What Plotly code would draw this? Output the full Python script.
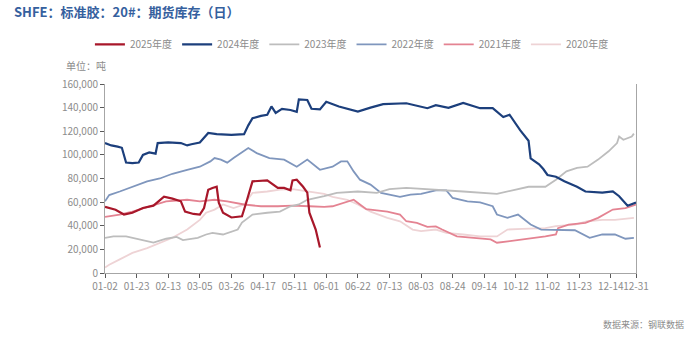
import plotly.graph_objects as go

# x tick positions are trading-day indices; labels are month-day
tick_idx = [0, 15, 30, 45, 60, 75, 90, 105, 120, 135, 150, 165, 180, 195, 210, 225, 240, 252]
tick_labels = ["01-02", "01-23", "02-13", "03-05", "03-26", "04-17", "05-11", "06-01", "06-22",
               "07-13", "08-03", "08-24", "09-14", "10-12", "11-02", "11-23", "12-14", "12-31"]

day_2025 = [0, 3, 5, 9, 13, 18, 23, 28, 32, 36, 38, 42, 45, 47, 49, 51, 53, 54, 56, 60, 65, 67,
            70, 77, 79, 82, 85, 88, 89, 91, 94, 96, 97, 100, 102]
inv_2025 = [56000, 54500, 53500, 49500, 51000, 55000, 57000, 64600, 63000, 60700, 52000, 50000,
            49500, 55000, 70500, 72000, 73000, 59500, 51000, 47000, 48000, 59500,
            77600, 78400, 76000, 72000, 72000, 70000, 78400, 79000, 73000, 68000, 51000, 36800, 21600]

day_2024 = [0, 3, 6, 8, 10, 13, 16, 18, 21, 24, 25, 30, 36, 39, 41, 45, 49, 53, 60, 66, 68, 70,
            74, 77, 79, 81, 84, 88, 91, 92, 96, 98, 102, 105, 111, 120, 126, 132, 143, 153, 157,
            163, 170, 178, 184, 189, 192, 197, 201, 202, 206, 208, 210, 214, 218, 224, 228, 236,
            241, 244, 248, 252]
inv_2024 = [110000, 108000, 107000, 106000, 93500, 93000, 93500, 100000, 102000, 101000, 110000,
            110500, 110000, 108000, 109000, 110500, 118500, 117500, 117000, 117500, 125000, 131000,
            133000, 134000, 141000, 135500, 139000, 138000, 136500, 147000, 146500, 139000, 138500,
            145000, 141000, 136600, 140000, 143000, 143700, 139500, 142000,
            139800, 144000, 139500, 139500, 132000, 134000, 121000, 112000, 97000, 92000, 88000,
            83000, 81500, 77600, 73000, 69000, 68000, 69000, 65000, 57000, 59600]

day_2023 = [0, 4, 10, 17, 23, 29, 34, 37, 44, 48, 51, 56, 63, 65, 70, 77, 83, 88, 92, 96, 101,
            104, 110, 120, 129, 135, 143, 153, 157, 170, 186, 196, 201, 209, 214, 219, 224, 229,
            234, 239, 243, 244, 246, 250, 251]
inv_2023 = [29800, 31000, 31000, 28400, 25800, 29000, 30600, 27800, 29800, 32600, 34000, 32600,
            36800, 42700, 49500, 51000, 52000, 56500, 58000, 62000, 63800, 65000, 67800, 69000,
            67800, 71000, 72000, 71000, 70000, 69000, 67000, 71000, 73000, 73000, 79000, 86000,
            89000, 90000, 96000, 103000, 110000, 115500, 112800, 115500, 118000]

day_2022 = [0, 2, 7, 13, 20, 26, 32, 39, 45, 50, 52, 55, 58, 61, 68, 72, 78, 85, 91, 96, 102,
            108, 112, 115, 118, 121, 126, 131, 140, 145, 150, 157, 162, 165, 172, 178, 184, 186,
            191, 196, 202, 207, 214, 223, 230, 236, 242, 247, 251]
inv_2022 = [60700, 66000, 69000, 73000, 77600, 80000, 84000, 87400, 90000, 94500, 97300, 96000,
            93400, 97300, 105800, 101500, 97300, 96000, 90000, 96000, 87400, 90000, 94500, 94500,
            86000, 79000, 74800, 67800, 64400, 66300, 67000, 70000, 70000, 63500, 60700, 59800,
            56500, 49500, 46700, 49500, 41000, 36800, 36800, 36200, 29800, 32600, 32600, 29000, 29800]

day_2021 = [0, 7, 13, 21, 29, 39, 45, 52, 58, 66, 74, 82, 89, 97, 104, 108, 113, 118, 121, 124,
            134, 140, 143, 148, 153, 157, 160, 167, 175, 183, 186, 192, 200, 204, 209, 214, 215,
            220, 228, 234, 241, 247, 252]
inv_2021 = [47500, 49500, 52000, 56500, 60700, 62000, 60700, 62000, 60700, 58000, 56500, 56500,
            57000, 56500, 56000, 56500, 59000, 62000, 58000, 54000, 52000, 49500, 43800, 42500,
            39000, 39500, 36800, 31000, 29800, 28400, 25600, 27000, 28400, 29800, 31000, 32600,
            38000, 41000, 42500, 46700, 53700, 55000, 58000]

day_2020 = [0, 2, 7, 13, 20, 26, 32, 39, 45, 48, 52, 56, 61, 66, 70, 77, 83, 89, 96, 104, 108,
            115, 120, 126, 134, 140, 146, 150, 157, 162, 170, 178, 186, 191, 198, 209, 214, 223,
            229, 236, 242, 251]
inv_2020 = [4700, 7000, 11500, 17000, 21000, 25600, 29800, 36800, 45000, 51000, 53700, 58000,
            55000, 58000, 67800, 69000, 70500, 71000, 69000, 67000, 64400, 62000, 58000, 52000,
            46700, 43800, 36800, 35400, 36800, 34000, 32600, 31000, 31000, 36800, 37400, 38000,
            39600, 41000, 43800, 45000, 45000, 46700]

series = [
    ("2025年度", day_2025, inv_2025, "#a8172a", 2.2),
    ("2024年度", day_2024, inv_2024, "#1c3f7c", 2.2),
    ("2023年度", day_2023, inv_2023, "#bdbdbd", 1.8),
    ("2022年度", day_2022, inv_2022, "#7f96bd", 1.8),
    ("2021年度", day_2021, inv_2021, "#e48392", 1.8),
    ("2020年度", day_2020, inv_2020, "#eed3d5", 1.8),
]

fig = go.Figure()
for order, (name, xs, ys, color, w) in enumerate(series):
    fig.add_trace(go.Scatter(x=xs, y=ys, mode="lines", name=name,
                             line=dict(color=color, width=w), legendrank=order + 1))
# draw older years first so newer ones sit on top; legendrank keeps legend order
fig.data = tuple(reversed(fig.data))

font_family = "Noto Sans CJK SC, DejaVu Sans, sans-serif"
axis_color = "#a6a6a6"
tick_font = dict(family=font_family, size=10, color="#8c8c8c")

fig.update_layout(
    width=700, height=337,
    margin=dict(l=105, r=64, t=84, b=64),
    paper_bgcolor="white", plot_bgcolor="white",
    showlegend=True,
    legend=dict(orientation="h", x=0.465, xanchor="center", y=1.21, yanchor="middle",
                font=dict(family=font_family, size=10, color="#8c8c8c"),
                itemwidth=30, traceorder="normal", bgcolor="rgba(0,0,0,0)"),
    title=dict(text="<b>SHFE：标准胶：20#：期货库存（日）</b>",
               x=14 / 700, xanchor="left", xref="container",
               y=1 - 12 / 337, yanchor="middle", yref="container",
               font=dict(family=font_family, size=13, color="#35609e")),
    xaxis=dict(range=[0, 252], tickmode="array", tickvals=tick_idx, ticktext=tick_labels,
               tickangle=0,
               showgrid=False, zeroline=False, showline=True, linecolor=axis_color, linewidth=1,
               ticks="outside", ticklen=4, tickcolor="#595959", tickfont=tick_font),
    yaxis=dict(range=[0, 160000], dtick=20000, tickformat=",", showgrid=False, zeroline=False,
               showline=True, linecolor=axis_color, linewidth=1, mirror=True,
               ticks="outside", ticklen=4, tickcolor="#595959", tickfont=tick_font),
    annotations=[
        dict(text="单位：吨", xref="paper", yref="paper", x=(86 - 105) / 531, y=(273 - 66) / 189,
             xanchor="center", yanchor="middle", showarrow=False,
             font=dict(family=font_family, size=10, color="#8c8c8c")),
        dict(text="数据来源：钢联数据", xref="paper", yref="paper", x=(686 - 105) / 531,
             y=(273 - 324) / 189, xanchor="right", yanchor="middle", showarrow=False,
             font=dict(family=font_family, size=9, color="#8c8c8c")),
    ],
)

fig.write_html("out.html")
